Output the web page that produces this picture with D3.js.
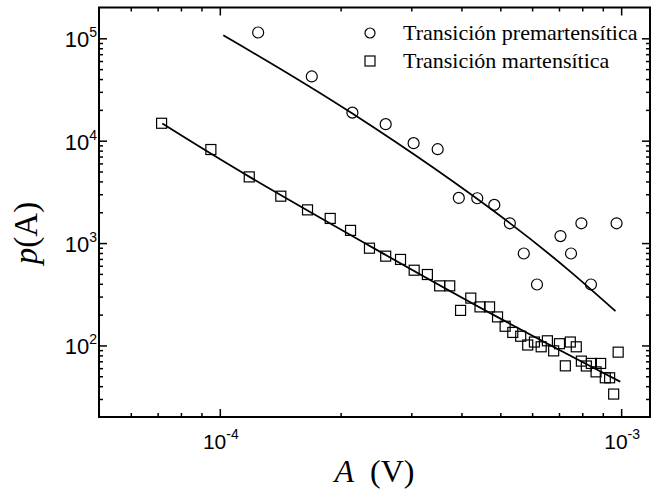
<!DOCTYPE html>
<html>
<head>
<meta charset="utf-8">
<script src="https://cdn.jsdelivr.net/npm/d3@7"></script>
<style>
  html, body { margin: 0; padding: 0; background: #fff; }
  svg { display: block; }
</style>
</head>
<body>
<div id="chart"></div>
<script>
// premartensitic transition (circles)
const preA = [1.246e-4, 1.695e-4, 2.14e-4, 2.59e-4, 3.04e-4, 3.49e-4, 3.94e-4, 4.38e-4, 4.83e-4,
              5.28e-4, 5.72e-4, 6.17e-4, 7.06e-4, 7.5e-4, 7.96e-4, 8.41e-4, 9.74e-4];
const preP = [1.14e5, 4.24e4, 1.88e4, 1.45e4, 9.46e3, 8.26e3, 2.76e3, 2.74e3, 2.36e3,
              1.56e3, 791, 394, 1.17e3, 791, 1.56e3, 394, 1.56e3];
// martensitic transition (squares)
const martA = [7.16e-5, 9.5e-5, 1.184e-4, 1.419e-4, 1.654e-4, 1.884e-4, 2.117e-4, 2.36e-4, 2.59e-4, 2.82e-4,
               3.05e-4, 3.29e-4, 3.53e-4, 3.74e-4, 3.98e-4, 4.22e-4, 4.45e-4, 4.7e-4, 4.92e-4, 5.14e-4,
               5.37e-4, 5.62e-4, 5.85e-4, 6.08e-4, 6.32e-4, 6.55e-4, 6.79e-4, 7.02e-4, 7.26e-4, 7.47e-4,
               7.73e-4, 7.96e-4, 8.19e-4, 8.43e-4, 8.66e-4, 8.89e-4, 9.13e-4, 9.36e-4, 9.58e-4, 9.83e-4];
const martP = [1.48e4, 8.2e3, 4.43e3, 2.87e3, 2.11e3, 1.74e3, 1.33e3, 891, 745, 692,
               543, 493, 382, 382, 220, 290, 238, 238, 190, 154,
               134, 123, 101, 108, 97, 111, 88.5, 104, 63.2, 108,
               97, 70.3, 63, 66.7, 55.2, 66.7, 48.3, 48.3, 33.5, 86];
// fitted curves
const preFitA = [1.02e-4, 2.14e-4, 5.27e-4, 9.68e-4];
const preFitP = [1.07e5, 1.84e4, 1.575e3, 216];
const martFitA = [7.19e-5, 1.186e-4, 2.51e-4, 4.91e-4, 9.95e-4];
const martFitP = [1.47e4, 4.43e3, 820, 190, 44.2];

// ticks
const xMajor = [1e-4, 1e-3];
const xMajorExp = ["-4", "-3"];
const xMinor = [6e-5, 7e-5, 8e-5, 9e-5, 2e-4, 3e-4, 4e-4, 5e-4, 6e-4, 7e-4, 8e-4, 9e-4];
const yMajor = [1e2, 1e3, 1e4, 1e5];
const yMajorExp = ["2", "3", "4", "5"];
const yMinor = [30, 40, 50, 60, 70, 80, 90,
                200, 300, 400, 500, 600, 700, 800, 900,
                2e3, 3e3, 4e3, 5e3, 6e3, 7e3, 8e3, 9e3,
                2e4, 3e4, 4e4, 5e4, 6e4, 7e4, 8e4, 9e4];

const legendLabels = ["Transición premartensítica", "Transición martensítica"];

const W = 653, H = 492;
const m = { left: 99, right: 650, top: 7.5, bottom: 417 };

const svg = d3.select("#chart").append("svg")
    .attr("width", W)
    .attr("height", H);

const x = d3.scaleLog().domain([5e-5, 1.18e-3]).range([m.left, m.right]);
const y = d3.scaleLog().domain([20, 2e5]).range([m.bottom, m.top]);

const sans = "'Liberation Sans', Arial, sans-serif";
const serif = "'Liberation Serif', 'Times New Roman', serif";

// axes with inward ticks on all four sides
function addAxis(axisFn, scale, vals, size, tx, ty) {
    svg.append("g")
        .attr("transform", `translate(${tx},${ty})`)
        .call(axisFn(scale).tickValues(vals).tickSize(size).tickFormat(""))
        .call(g => g.select(".domain").remove())
        .call(g => g.selectAll("line").attr("stroke", "#000").attr("stroke-width", 1.5));
}
addAxis(d3.axisBottom, x, xMajor, -8, 0, m.bottom);
addAxis(d3.axisBottom, x, xMinor, -4, 0, m.bottom);
addAxis(d3.axisTop, x, xMajor, -8, 0, m.top);
addAxis(d3.axisTop, x, xMinor, -4, 0, m.top);
addAxis(d3.axisLeft, y, yMajor, -8, m.left, 0);
addAxis(d3.axisLeft, y, yMinor, -4, m.left, 0);
addAxis(d3.axisRight, y, yMajor, -8, m.right, 0);
addAxis(d3.axisRight, y, yMinor, -4, m.right, 0);

svg.append("rect")
    .attr("x", m.left).attr("y", m.top)
    .attr("width", m.right - m.left).attr("height", m.bottom - m.top)
    .attr("fill", "none")
    .attr("stroke", "#000")
    .attr("stroke-width", 2);

// tick labels
const xl = svg.append("g").attr("font-family", sans).attr("fill", "#000");
xMajor.forEach((v, i) => {
    const t = xl.append("text")
        .attr("x", x(v) + 1)
        .attr("y", 449)
        .attr("text-anchor", "middle")
        .attr("font-size", 21);
    t.append("tspan").text("10");
    t.append("tspan").attr("dy", -10).attr("font-size", 14).text(xMajorExp[i]);
});

const yl = svg.append("g").attr("font-family", sans).attr("fill", "#000");
yMajor.forEach((v, i) => {
    const t = yl.append("text")
        .attr("x", 97)
        .attr("y", y(v) + 9)
        .attr("text-anchor", "end")
        .attr("font-size", 22);
    t.append("tspan").text("10");
    t.append("tspan").attr("dy", -10).attr("font-size", 14).text(yMajorExp[i]);
});

// axis titles
const xt = svg.append("text")
    .attr("x", (m.left + m.right) / 2)
    .attr("y", 482)
    .attr("text-anchor", "middle")
    .attr("font-family", serif)
    .attr("font-size", 32);
xt.append("tspan").attr("font-style", "italic").text("A");
xt.append("tspan").attr("xml:space", "preserve").text("  (V)");

const yt = svg.append("text")
    .attr("transform", "translate(37,233) rotate(-90)")
    .attr("text-anchor", "middle")
    .attr("font-family", serif)
    .attr("font-size", 33);
yt.append("tspan").attr("font-style", "italic").text("p");
yt.append("tspan").text("(A)");

// fitted curves
const line = d3.line()
    .x(d => x(d[0]))
    .y(d => y(d[1]))
    .curve(d3.curveNatural);

svg.append("path")
    .datum(preFitA.map((a, i) => [a, preFitP[i]]))
    .attr("d", line)
    .attr("fill", "none")
    .attr("stroke", "#000")
    .attr("stroke-width", 1.8);

svg.append("path")
    .datum(martFitA.map((a, i) => [a, martFitP[i]]))
    .attr("d", line)
    .attr("fill", "none")
    .attr("stroke", "#000")
    .attr("stroke-width", 1.8);

// markers
const sq = 10;
svg.append("g")
    .selectAll("rect")
    .data(martA.map((a, i) => [a, martP[i]]))
    .join("rect")
    .attr("x", d => x(d[0]) - sq / 2)
    .attr("y", d => y(d[1]) - sq / 2)
    .attr("width", sq)
    .attr("height", sq)
    .attr("fill", "none")
    .attr("stroke", "#000")
    .attr("stroke-width", 1.2);

svg.append("g")
    .selectAll("circle")
    .data(preA.map((a, i) => [a, preP[i]]))
    .join("circle")
    .attr("cx", d => x(d[0]))
    .attr("cy", d => y(d[1]))
    .attr("r", 5.5)
    .attr("fill", "none")
    .attr("stroke", "#000")
    .attr("stroke-width", 1.2);

// legend
const lg = svg.append("g").attr("font-family", serif).attr("font-size", 22);
lg.append("circle")
    .attr("cx", 370).attr("cy", 33)
    .attr("r", 5)
    .attr("fill", "none").attr("stroke", "#000").attr("stroke-width", 1.2);
lg.append("rect")
    .attr("x", 365).attr("y", 56)
    .attr("width", 10).attr("height", 10)
    .attr("fill", "none").attr("stroke", "#000").attr("stroke-width", 1.2);
legendLabels.forEach((s, i) => {
    lg.append("text")
        .attr("x", 403)
        .attr("y", 40 + i * 28)
        .text(s);
});
</script>
</body>
</html>
